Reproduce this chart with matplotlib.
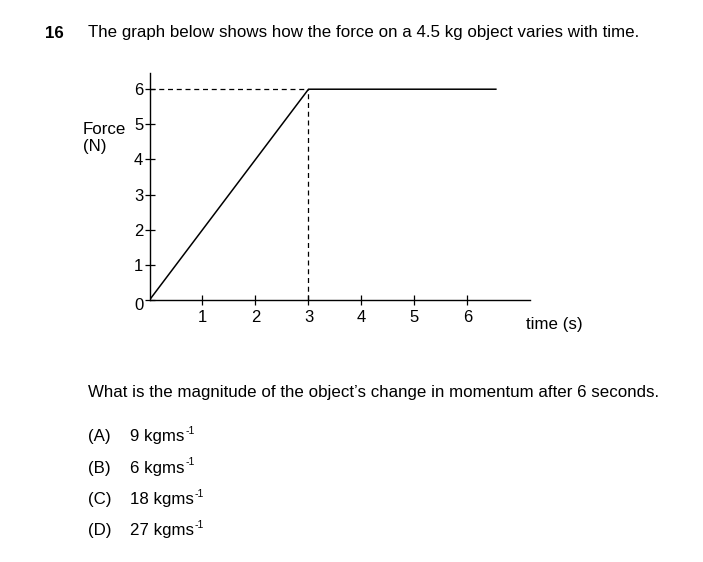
import matplotlib
matplotlib.use('Agg')
import matplotlib.pyplot as plt

# ── Data ──────────────────────────────────────────────────────────────────────
time_s = [0, 3, 6.55]          # force-time graph vertices
force_n = [0, 6, 6]
peak_t = 3                     # dashed guide lines
peak_f = 6
x_ticks = [1, 2, 3, 4, 5, 6]
y_ticks = [0, 1, 2, 3, 4, 5, 6]

option_labels = ['(A)', '(B)', '(C)', '(D)']
option_values = ['9', '6', '18', '27']

plt.rcParams['font.family'] = ['Liberation Sans', 'DejaVu Sans']

FS = 12.2
W, H = 703, 562
fig = plt.figure(figsize=(W / 100, H / 100), dpi=100)

def fx(px):
    return px / W

def fy(py):
    return 1 - py / H

# axes placed so that origin sits at (149.5, 300) px
ax = fig.add_axes([fx(149.5), fy(300), 380 / W, 227.3 / H])
ax.set_xlim(0, 7.17)
ax.set_ylim(0, 6.47)

ax.plot(time_s, force_n, color='black', lw=1.1, solid_capstyle='butt')
ax.plot([0, peak_t], [peak_f, peak_f], color='black', lw=0.9, ls=(0, (4, 3)))
ax.plot([peak_t, peak_t], [0, peak_f], color='black', lw=0.9, ls=(0, (4, 3)))

for s in ['top', 'right']:
    ax.spines[s].set_visible(False)
for s in ['left', 'bottom']:
    ax.spines[s].set_linewidth(1.0)
    ax.spines[s].set_color('black')

ax.set_xticks(x_ticks)
ax.set_yticks(y_ticks)
ax.tick_params(direction='inout', length=7, width=0.9, labelsize=12, colors='black')
ax.tick_params(axis='x', pad=4)
ax.tick_params(axis='y', pad=1)
# the printed "0" sits a little below the origin
ax.get_yticklabels()[0].set_y(-0.12)
for lab in ax.get_yticklabels()[:1]:
    lab.set_transform(lab.get_transform() + matplotlib.transforms.ScaledTranslation(0, -4 / 100, fig.dpi_scale_trans))

# axis labels as free text, like the printed question
fig.text(fx(83), fy(130), 'Force', fontsize=FS, va='center', ha='left')
fig.text(fx(83), fy(147), '(N)', fontsize=FS, va='center', ha='left')
fig.text(fx(526), fy(324), 'time (s)', fontsize=FS, va='center', ha='left')

# question text
fig.text(fx(45), fy(33), '16', fontsize=FS, fontweight='bold', va='center', ha='left')
fig.text(fx(88), fy(33), 'The graph below shows how the force on a 4.5 kg object varies with time.',
         fontsize=FS, va='center', ha='left')
fig.text(fx(88), fy(392), 'What is the magnitude of the object\u2019s change in momentum after 6 seconds.',
         fontsize=FS, va='center', ha='left')

unit_texts = []
for i, (lab, val) in enumerate(zip(option_labels, option_values)):
    y = 437 + i * 31.3
    fig.text(fx(88), fy(y), lab, fontsize=FS, va='center', ha='left')
    t = fig.text(fx(130), fy(y), val + ' kgms', fontsize=FS, va='center', ha='left')
    unit_texts.append((t, y))

# small superscript "-1" after each unit
fig.canvas.draw()
renderer = fig.canvas.get_renderer()
for t, y in unit_texts:
    bb = t.get_window_extent(renderer)
    fig.text((bb.x1 + 1) / W, fy(y - 6), '-1', fontsize=7.5, va='center', ha='left')

fig.savefig('out.png', dpi=100)
